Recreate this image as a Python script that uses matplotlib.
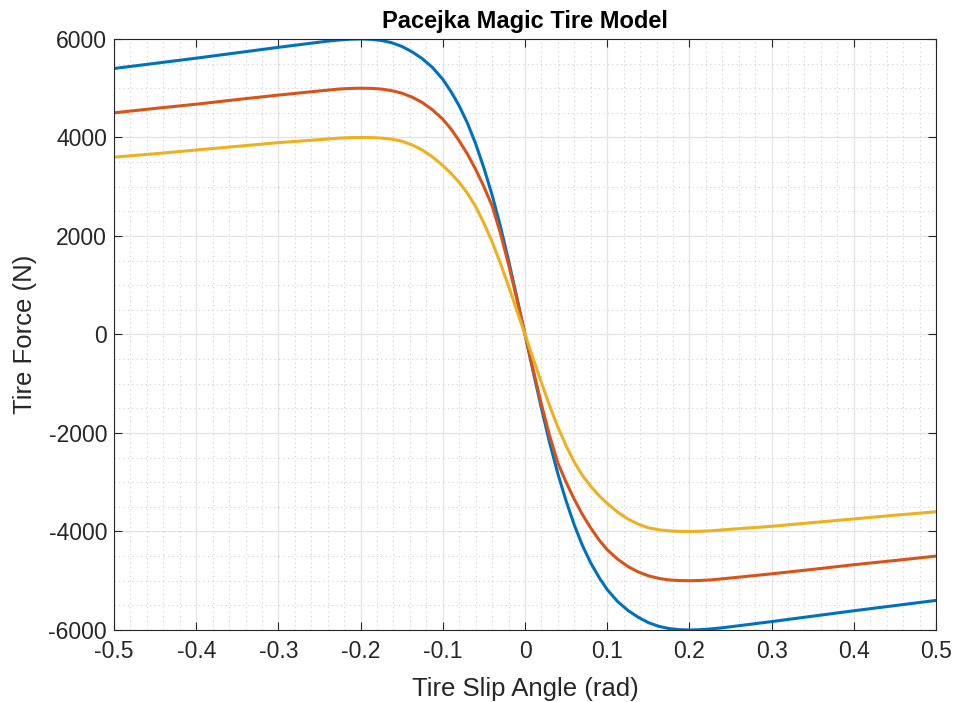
import numpy as np
import matplotlib
matplotlib.use("Agg")
from matplotlib import pyplot as plt
from matplotlib.ticker import MultipleLocator

plt.rcParams['font.family'] = ['Liberation Sans', 'DejaVu Sans']
plt.rcParams['axes.unicode_minus'] = False

# slip angle (rad)
slip = [-0.5, -0.45, -0.4, -0.35, -0.3, -0.25, -0.2375, -0.225, -0.2125, -0.2,
        -0.1875, -0.175, -0.1625, -0.15, -0.1375, -0.125, -0.1125, -0.1, -0.09, -0.08,
        -0.07, -0.06, -0.05, -0.04, -0.03, -0.02, -0.01, 0.0,
        0.01, 0.02, 0.03, 0.04, 0.05, 0.06, 0.07, 0.08, 0.09, 0.1,
        0.1125, 0.125, 0.1375, 0.15, 0.1625, 0.175, 0.1875, 0.2, 0.2125, 0.225,
        0.2375, 0.25, 0.3, 0.35, 0.4, 0.45, 0.5]

# tire force (N), one list per curve
force_6000 = [5400, 5505, 5610, 5720, 5830, 5935, 5960, 5980, 5995, 6000,
              5993, 5970, 5925, 5850, 5740, 5600, 5420, 5180, 4930, 4640,
              4290, 3870, 3380, 2830, 2200, 1500, 760, 0,
              -760, -1500, -2200, -2830, -3380, -3870, -4290, -4640, -4930, -5180,
              -5420, -5600, -5740, -5850, -5925, -5970, -5993, -6000, -5995, -5980,
              -5960, -5935, -5830, -5720, -5610, -5505, -5400]
force_5000 = [4500, 4590, 4675, 4770, 4860, 4945, 4965, 4985, 4995, 5000,
              4997, 4983, 4952, 4900, 4820, 4710, 4560, 4370, 4170, 3930,
              3660, 3350, 3000, 2610, 2060, 1420, 720, 0,
              -720, -1420, -2060, -2610, -3000, -3350, -3660, -3930, -4170, -4370,
              -4560, -4710, -4820, -4900, -4952, -4983, -4997, -5000, -4995, -4985,
              -4965, -4945, -4860, -4770, -4675, -4590, -4500]
force_4000 = [3600, 3670, 3745, 3820, 3895, 3955, 3972, 3987, 3997, 4000,
              3998, 3988, 3965, 3925, 3850, 3745, 3605, 3430, 3270, 3085,
              2865, 2595, 2260, 1880, 1450, 980, 490, 0,
              -490, -980, -1450, -1880, -2260, -2595, -2865, -3085, -3270, -3430,
              -3605, -3745, -3850, -3925, -3965, -3988, -3998, -4000, -3997, -3987,
              -3972, -3955, -3895, -3820, -3745, -3670, -3600]

xticks = [-0.5, -0.4, -0.3, -0.2, -0.1, 0, 0.1, 0.2, 0.3, 0.4, 0.5]
xlabels = ['-0.5', '-0.4', '-0.3', '-0.2', '-0.1', '0', '0.1', '0.2', '0.3', '0.4', '0.5']
yticks = [-6000, -4000, -2000, 0, 2000, 4000, 6000]

fig = plt.figure(figsize=(9.55, 7.02), dpi=100)
ax = fig.add_axes([0.1194, 0.1026, 0.8607, 0.8419])

ax.plot(slip, force_6000, color='#0072BD', lw=2.2)
ax.plot(slip, force_5000, color='#D95319', lw=2.2)
ax.plot(slip, force_4000, color='#EDB120', lw=2.2)

ax.set_xlim(-0.5, 0.5)
ax.set_ylim(-6000, 6000)
ax.set_xticks(xticks)
ax.set_xticklabels(xlabels)
ax.set_yticks(yticks)
ax.set_yticklabels([str(v) for v in yticks])
ax.xaxis.set_minor_locator(MultipleLocator(0.02))
ax.yaxis.set_minor_locator(MultipleLocator(500))

ax.grid(True, which='major', color='#e3e3e3', lw=0.9)
ax.grid(True, which='minor', color='#cfcfcf', lw=0.8, ls=(0, (1, 3)))
ax.set_axisbelow(True)

ax.tick_params(which='major', direction='in', length=6, width=0.8, colors='#262626',
               labelsize=16.5, top=True, right=True)
ax.tick_params(axis='y', which='major', pad=5)
ax.tick_params(axis='x', which='major', pad=7)
ax.tick_params(which='minor', length=0, top=True, right=True)
for s in ax.spines.values():
    s.set_color('#262626')
    s.set_linewidth(0.8)

ax.set_xlabel('Tire Slip Angle (rad)', fontsize=18.5, color='#262626', labelpad=10)
ax.set_ylabel('Tire Force (N)', fontsize=18.5, color='#262626', labelpad=8)
ax.set_title('Pacejka Magic Tire Model', fontsize=17, fontweight='bold', pad=8)

fig.savefig('out.png', dpi=100)
